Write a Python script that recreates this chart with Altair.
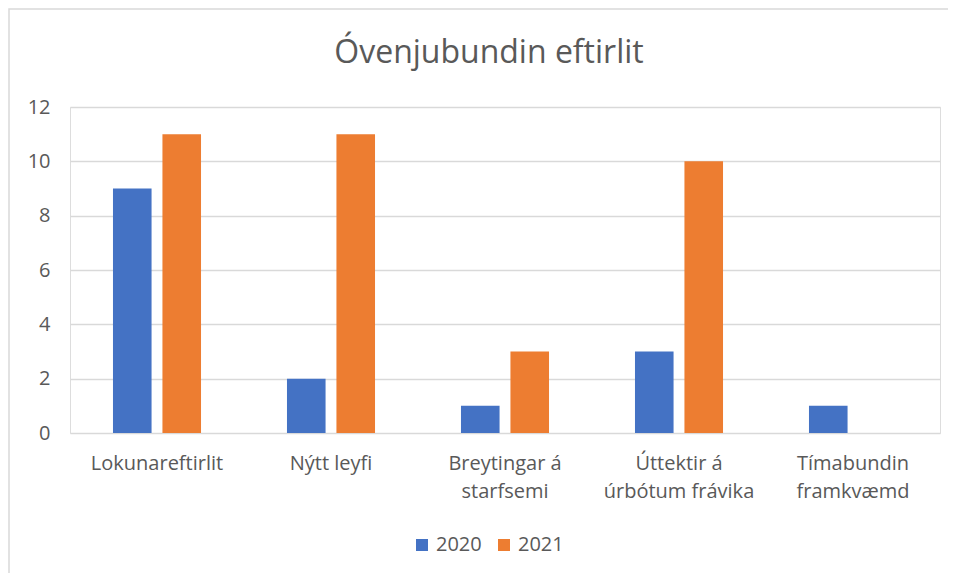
import altair as alt
import pandas as pd

title_text = "Óvenjubundin eftirlit"
categories = ["Lokunareftirlit", "Nýtt leyfi", "Breytingar á starfsemi",
              "Úttektir á úrbótum frávika", "Tímabundin framkvæmd"]
label_lines = [["Lokunareftirlit"], ["Nýtt leyfi"], ["Breytingar á", "starfsemi"],
               ["Úttektir á", "úrbótum frávika"], ["Tímabundin", "framkvæmd"]]
years = ["2020", "2021"]
values_2020 = [9, 2, 1, 3, 1]
values_2021 = [11, 11, 3, 10, 0]
colors = ["#4472C4", "#ED7D31"]

rows = []
for c, v0, v1 in zip(categories, values_2020, values_2021):
    rows.append({"Flokkur": c, "Ár": years[0], "Fjöldi": v0})
    rows.append({"Flokkur": c, "Ár": years[1], "Fjöldi": v1})
df = pd.DataFrame(rows)

expr = ""
for c, lines in zip(categories, label_lines):
    arr = "[" + ",".join("'" + l + "'" for l in lines) + "]"
    expr += f"datum.label == '{c}' ? {arr} : "
expr += "datum.label"

FONT = "Open Sans"
TXT = "#595959"
W, H = 870, 326
PL, PT, PR, PB = 62, 99, 8, 140

bars = alt.Chart(df).mark_bar().encode(
    x=alt.X("Flokkur:N", sort=categories, title=None,
            scale=alt.Scale(paddingInner=0.494, paddingOuter=0.247),
            axis=alt.Axis(labelAngle=0, labelExpr=expr, domain=False, ticks=False,
                          labelPadding=20, labelFontSize=20, labelColor=TXT,
                          labelFont=FONT, labelLineHeight=28, labelBaseline="top")),
    xOffset=alt.XOffset("Ár:N", sort=years,
                        scale=alt.Scale(paddingInner=0.22, paddingOuter=0)),
    y=alt.Y("Fjöldi:Q", title=None,
            scale=alt.Scale(domain=[0, 12]),
            axis=alt.Axis(values=[0, 2, 4, 6, 8, 10, 12], domain=False, ticks=False,
                          labelPadding=20, labelFontSize=20, labelColor=TXT,
                          labelFont=FONT, gridColor="#d9d9d9", gridWidth=1.5)),
    color=alt.Color("Ár:N", sort=years,
                    scale=alt.Scale(domain=years, range=colors),
                    legend=alt.Legend(orient="none", legendX=342, legendY=428,
                                      title=None, symbolType="square",
                                      symbolSize=144, symbolStrokeWidth=0,
                                      labelFontSize=20, labelColor=TXT, labelFont=FONT,
                                      labelOffset=4, columnPadding=12,
                                      direction="horizontal")),
)

frame = alt.Chart(pd.DataFrame({"a": [0]})).mark_rect(
    fill=None, stroke="#d9d9d9", strokeWidth=1.5
).encode(
    x=alt.value(-PL + 1), x2=alt.value(W + PR + 20),
    y=alt.value(-PT + 1), y2=alt.value(H + PB + 20),
)

title = alt.Chart(pd.DataFrame({"t": [title_text]})).mark_text(
    font=FONT, fontSize=32, color=TXT, align="center", baseline="middle"
).encode(text="t:N", x=alt.value(419), y=alt.value(-54))

chart = alt.layer(frame, bars, title).properties(
    width=W, height=H,
    padding={"left": PL, "top": PT, "right": PR, "bottom": PB},
    autosize=alt.AutoSizeParams(type="none"),
).configure_view(stroke=None).configure(background="white")

chart.save("out.html", embed_options={"renderer": "svg", "actions": False})
